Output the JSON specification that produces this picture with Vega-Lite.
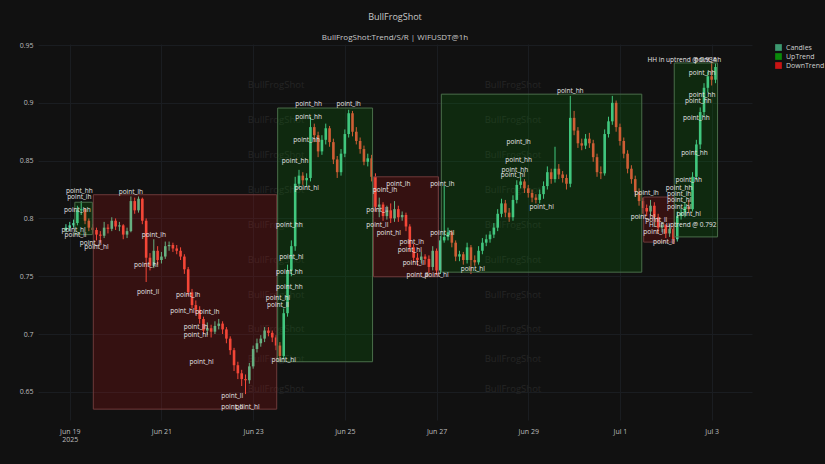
{
"$schema": "https://vega.github.io/schema/vega-lite/v6.json",
"width": 714, "height": 376,
"autosize": {"type": "none"},
"padding": {"left": 38, "top": 44, "right": 73, "bottom": 44},
"background": "#111111",
"title": {"text": "BullFrogShot", "subtitle": "BullFrogShot:Trend/S/R | WIFUSDT@1h", "anchor": "middle", "font": "Open Sans", "subtitleFont": "Open Sans", "fontSize": 9, "subtitleFontSize": 8, "fontWeight": "normal", "color": "#c8c8c8", "subtitleColor": "#c8c8c8", "offset": -1, "subtitlePadding": 12},
"config": {
  "view": {"stroke": null},
  "font": "Open Sans",
  "axis": {"domain": false, "ticks": false, "labelColor": "#bdbdbd", "labelFontSize": 7, "labelFont": "Open Sans", "gridColor": "#1a1d21", "gridWidth": 1, "title": null}
},
"datasets": {
"c": [
{"t":"2025-06-18T22:00","o":0.790,"h":0.795,"l":0.788,"c":0.792},
{"t":"2025-06-19T00:00","o":0.792,"h":0.797,"l":0.789,"c":0.794},
{"t":"2025-06-19T02:00","o":0.794,"h":0.799,"l":0.792,"c":0.796},
{"t":"2025-06-19T04:00","o":0.796,"h":0.811,"l":0.794,"c":0.807},
{"t":"2025-06-19T06:00","o":0.807,"h":0.815,"l":0.803,"c":0.808},
{"t":"2025-06-19T08:00","o":0.808,"h":0.809,"l":0.795,"c":0.798},
{"t":"2025-06-19T10:00","o":0.798,"h":0.800,"l":0.789,"c":0.792},
{"t":"2025-06-19T12:00","o":0.792,"h":0.795,"l":0.787,"c":0.790},
{"t":"2025-06-19T14:00","o":0.790,"h":0.792,"l":0.781,"c":0.786},
{"t":"2025-06-19T16:00","o":0.786,"h":0.789,"l":0.779,"c":0.785},
{"t":"2025-06-19T18:00","o":0.785,"h":0.797,"l":0.783,"c":0.792},
{"t":"2025-06-19T20:00","o":0.792,"h":0.795,"l":0.787,"c":0.791},
{"t":"2025-06-19T22:00","o":0.791,"h":0.801,"l":0.789,"c":0.798},
{"t":"2025-06-20T00:00","o":0.798,"h":0.800,"l":0.790,"c":0.793},
{"t":"2025-06-20T02:00","o":0.793,"h":0.797,"l":0.789,"c":0.794},
{"t":"2025-06-20T04:00","o":0.794,"h":0.795,"l":0.782,"c":0.786},
{"t":"2025-06-20T06:00","o":0.786,"h":0.792,"l":0.783,"c":0.789},
{"t":"2025-06-20T08:00","o":0.789,"h":0.819,"l":0.788,"c":0.815},
{"t":"2025-06-20T10:00","o":0.815,"h":0.818,"l":0.804,"c":0.807},
{"t":"2025-06-20T12:00","o":0.807,"h":0.819,"l":0.805,"c":0.817},
{"t":"2025-06-20T14:00","o":0.817,"h":0.818,"l":0.795,"c":0.798},
{"t":"2025-06-20T16:00","o":0.798,"h":0.800,"l":0.745,"c":0.766},
{"t":"2025-06-20T18:00","o":0.766,"h":0.770,"l":0.755,"c":0.759},
{"t":"2025-06-20T20:00","o":0.759,"h":0.782,"l":0.757,"c":0.772},
{"t":"2025-06-20T22:00","o":0.772,"h":0.776,"l":0.760,"c":0.764},
{"t":"2025-06-21T00:00","o":0.764,"h":0.771,"l":0.761,"c":0.767},
{"t":"2025-06-21T02:00","o":0.767,"h":0.780,"l":0.765,"c":0.776},
{"t":"2025-06-21T04:00","o":0.776,"h":0.780,"l":0.772,"c":0.777},
{"t":"2025-06-21T06:00","o":0.777,"h":0.779,"l":0.771,"c":0.774},
{"t":"2025-06-21T08:00","o":0.774,"h":0.777,"l":0.769,"c":0.772},
{"t":"2025-06-21T10:00","o":0.772,"h":0.775,"l":0.764,"c":0.767},
{"t":"2025-06-21T12:00","o":0.767,"h":0.769,"l":0.752,"c":0.756},
{"t":"2025-06-21T14:00","o":0.756,"h":0.758,"l":0.733,"c":0.736},
{"t":"2025-06-21T16:00","o":0.736,"h":0.739,"l":0.722,"c":0.725},
{"t":"2025-06-21T18:00","o":0.725,"h":0.729,"l":0.717,"c":0.721},
{"t":"2025-06-21T20:00","o":0.721,"h":0.724,"l":0.709,"c":0.713},
{"t":"2025-06-21T22:00","o":0.713,"h":0.715,"l":0.700,"c":0.703},
{"t":"2025-06-22T00:00","o":0.703,"h":0.710,"l":0.699,"c":0.705},
{"t":"2025-06-22T02:00","o":0.705,"h":0.708,"l":0.697,"c":0.702},
{"t":"2025-06-22T04:00","o":0.702,"h":0.711,"l":0.700,"c":0.707},
{"t":"2025-06-22T06:00","o":0.707,"h":0.713,"l":0.704,"c":0.709},
{"t":"2025-06-22T08:00","o":0.709,"h":0.711,"l":0.700,"c":0.704},
{"t":"2025-06-22T10:00","o":0.704,"h":0.706,"l":0.692,"c":0.696},
{"t":"2025-06-22T12:00","o":0.696,"h":0.698,"l":0.682,"c":0.686},
{"t":"2025-06-22T14:00","o":0.686,"h":0.688,"l":0.668,"c":0.673},
{"t":"2025-06-22T16:00","o":0.673,"h":0.676,"l":0.661,"c":0.666},
{"t":"2025-06-22T18:00","o":0.666,"h":0.669,"l":0.655,"c":0.661},
{"t":"2025-06-22T20:00","o":0.661,"h":0.665,"l":0.648,"c":0.660},
{"t":"2025-06-22T22:00","o":0.660,"h":0.675,"l":0.657,"c":0.672},
{"t":"2025-06-23T00:00","o":0.672,"h":0.690,"l":0.670,"c":0.687},
{"t":"2025-06-23T02:00","o":0.687,"h":0.696,"l":0.684,"c":0.692},
{"t":"2025-06-23T04:00","o":0.692,"h":0.699,"l":0.689,"c":0.696},
{"t":"2025-06-23T06:00","o":0.696,"h":0.706,"l":0.693,"c":0.703},
{"t":"2025-06-23T08:00","o":0.703,"h":0.706,"l":0.698,"c":0.701},
{"t":"2025-06-23T10:00","o":0.701,"h":0.703,"l":0.693,"c":0.697},
{"t":"2025-06-23T12:00","o":0.697,"h":0.699,"l":0.686,"c":0.690},
{"t":"2025-06-23T14:00","o":0.690,"h":0.693,"l":0.676,"c":0.681},
{"t":"2025-06-23T16:00","o":0.681,"h":0.722,"l":0.678,"c":0.718},
{"t":"2025-06-23T18:00","o":0.718,"h":0.760,"l":0.715,"c":0.755},
{"t":"2025-06-23T20:00","o":0.755,"h":0.781,"l":0.750,"c":0.776},
{"t":"2025-06-23T22:00","o":0.776,"h":0.836,"l":0.772,"c":0.830},
{"t":"2025-06-24T00:00","o":0.830,"h":0.842,"l":0.826,"c":0.837},
{"t":"2025-06-24T02:00","o":0.837,"h":0.840,"l":0.829,"c":0.833},
{"t":"2025-06-24T04:00","o":0.833,"h":0.839,"l":0.828,"c":0.835},
{"t":"2025-06-24T06:00","o":0.835,"h":0.888,"l":0.832,"c":0.879},
{"t":"2025-06-24T08:00","o":0.879,"h":0.882,"l":0.866,"c":0.872},
{"t":"2025-06-24T10:00","o":0.872,"h":0.875,"l":0.853,"c":0.858},
{"t":"2025-06-24T12:00","o":0.858,"h":0.872,"l":0.855,"c":0.868},
{"t":"2025-06-24T14:00","o":0.868,"h":0.882,"l":0.864,"c":0.878},
{"t":"2025-06-24T16:00","o":0.878,"h":0.880,"l":0.862,"c":0.866},
{"t":"2025-06-24T18:00","o":0.866,"h":0.869,"l":0.847,"c":0.851},
{"t":"2025-06-24T20:00","o":0.851,"h":0.854,"l":0.835,"c":0.840},
{"t":"2025-06-24T22:00","o":0.840,"h":0.860,"l":0.837,"c":0.856},
{"t":"2025-06-25T00:00","o":0.856,"h":0.877,"l":0.853,"c":0.873},
{"t":"2025-06-25T02:00","o":0.873,"h":0.894,"l":0.870,"c":0.891},
{"t":"2025-06-25T04:00","o":0.891,"h":0.893,"l":0.871,"c":0.875},
{"t":"2025-06-25T06:00","o":0.875,"h":0.879,"l":0.864,"c":0.867},
{"t":"2025-06-25T08:00","o":0.867,"h":0.870,"l":0.856,"c":0.860},
{"t":"2025-06-25T10:00","o":0.860,"h":0.863,"l":0.846,"c":0.849},
{"t":"2025-06-25T12:00","o":0.849,"h":0.856,"l":0.845,"c":0.852},
{"t":"2025-06-25T14:00","o":0.852,"h":0.855,"l":0.832,"c":0.836},
{"t":"2025-06-25T16:00","o":0.836,"h":0.839,"l":0.806,"c":0.810},
{"t":"2025-06-25T18:00","o":0.810,"h":0.818,"l":0.801,"c":0.812},
{"t":"2025-06-25T20:00","o":0.812,"h":0.814,"l":0.798,"c":0.802},
{"t":"2025-06-25T22:00","o":0.802,"h":0.811,"l":0.799,"c":0.807},
{"t":"2025-06-26T00:00","o":0.807,"h":0.813,"l":0.796,"c":0.800},
{"t":"2025-06-26T02:00","o":0.800,"h":0.815,"l":0.797,"c":0.808},
{"t":"2025-06-26T04:00","o":0.808,"h":0.811,"l":0.797,"c":0.801},
{"t":"2025-06-26T06:00","o":0.801,"h":0.806,"l":0.798,"c":0.803},
{"t":"2025-06-26T08:00","o":0.803,"h":0.805,"l":0.789,"c":0.793},
{"t":"2025-06-26T10:00","o":0.793,"h":0.795,"l":0.771,"c":0.775},
{"t":"2025-06-26T12:00","o":0.775,"h":0.778,"l":0.762,"c":0.766},
{"t":"2025-06-26T14:00","o":0.766,"h":0.770,"l":0.759,"c":0.764},
{"t":"2025-06-26T16:00","o":0.764,"h":0.771,"l":0.761,"c":0.767},
{"t":"2025-06-26T18:00","o":0.767,"h":0.769,"l":0.760,"c":0.765},
{"t":"2025-06-26T20:00","o":0.765,"h":0.768,"l":0.753,"c":0.758},
{"t":"2025-06-26T22:00","o":0.758,"h":0.776,"l":0.755,"c":0.772},
{"t":"2025-06-27T00:00","o":0.772,"h":0.774,"l":0.751,"c":0.755},
{"t":"2025-06-27T02:00","o":0.755,"h":0.785,"l":0.752,"c":0.781},
{"t":"2025-06-27T04:00","o":0.781,"h":0.828,"l":0.779,"c":0.784},
{"t":"2025-06-27T06:00","o":0.784,"h":0.792,"l":0.781,"c":0.788},
{"t":"2025-06-27T08:00","o":0.788,"h":0.790,"l":0.775,"c":0.779},
{"t":"2025-06-27T10:00","o":0.779,"h":0.781,"l":0.763,"c":0.767},
{"t":"2025-06-27T12:00","o":0.767,"h":0.772,"l":0.763,"c":0.769},
{"t":"2025-06-27T14:00","o":0.769,"h":0.771,"l":0.760,"c":0.764},
{"t":"2025-06-27T16:00","o":0.764,"h":0.779,"l":0.761,"c":0.775},
{"t":"2025-06-27T18:00","o":0.775,"h":0.777,"l":0.752,"c":0.764},
{"t":"2025-06-27T20:00","o":0.764,"h":0.768,"l":0.759,"c":0.762},
{"t":"2025-06-27T22:00","o":0.762,"h":0.776,"l":0.760,"c":0.772},
{"t":"2025-06-28T00:00","o":0.772,"h":0.783,"l":0.769,"c":0.779},
{"t":"2025-06-28T02:00","o":0.779,"h":0.786,"l":0.776,"c":0.782},
{"t":"2025-06-28T04:00","o":0.782,"h":0.789,"l":0.779,"c":0.786},
{"t":"2025-06-28T06:00","o":0.786,"h":0.796,"l":0.783,"c":0.792},
{"t":"2025-06-28T08:00","o":0.792,"h":0.808,"l":0.789,"c":0.804},
{"t":"2025-06-28T10:00","o":0.804,"h":0.817,"l":0.801,"c":0.813},
{"t":"2025-06-28T12:00","o":0.813,"h":0.816,"l":0.801,"c":0.805},
{"t":"2025-06-28T14:00","o":0.805,"h":0.809,"l":0.797,"c":0.801},
{"t":"2025-06-28T16:00","o":0.801,"h":0.820,"l":0.798,"c":0.816},
{"t":"2025-06-28T18:00","o":0.816,"h":0.833,"l":0.813,"c":0.829},
{"t":"2025-06-28T20:00","o":0.829,"h":0.836,"l":0.826,"c":0.832},
{"t":"2025-06-28T22:00","o":0.832,"h":0.834,"l":0.822,"c":0.826},
{"t":"2025-06-29T00:00","o":0.826,"h":0.829,"l":0.818,"c":0.822},
{"t":"2025-06-29T02:00","o":0.822,"h":0.825,"l":0.814,"c":0.818},
{"t":"2025-06-29T04:00","o":0.818,"h":0.821,"l":0.813,"c":0.816},
{"t":"2025-06-29T06:00","o":0.816,"h":0.825,"l":0.813,"c":0.821},
{"t":"2025-06-29T08:00","o":0.821,"h":0.832,"l":0.817,"c":0.828},
{"t":"2025-06-29T10:00","o":0.828,"h":0.845,"l":0.825,"c":0.840},
{"t":"2025-06-29T12:00","o":0.840,"h":0.843,"l":0.830,"c":0.834},
{"t":"2025-06-29T14:00","o":0.834,"h":0.862,"l":0.831,"c":0.843},
{"t":"2025-06-29T16:00","o":0.843,"h":0.847,"l":0.834,"c":0.838},
{"t":"2025-06-29T18:00","o":0.838,"h":0.841,"l":0.831,"c":0.835},
{"t":"2025-06-29T20:00","o":0.835,"h":0.838,"l":0.825,"c":0.830},
{"t":"2025-06-29T22:00","o":0.830,"h":0.906,"l":0.827,"c":0.887},
{"t":"2025-06-30T00:00","o":0.887,"h":0.893,"l":0.872,"c":0.876},
{"t":"2025-06-30T02:00","o":0.876,"h":0.879,"l":0.861,"c":0.865},
{"t":"2025-06-30T04:00","o":0.865,"h":0.869,"l":0.859,"c":0.863},
{"t":"2025-06-30T06:00","o":0.863,"h":0.873,"l":0.860,"c":0.869},
{"t":"2025-06-30T08:00","o":0.869,"h":0.874,"l":0.861,"c":0.865},
{"t":"2025-06-30T10:00","o":0.865,"h":0.868,"l":0.849,"c":0.853},
{"t":"2025-06-30T12:00","o":0.853,"h":0.856,"l":0.836,"c":0.840},
{"t":"2025-06-30T14:00","o":0.840,"h":0.845,"l":0.834,"c":0.839},
{"t":"2025-06-30T16:00","o":0.839,"h":0.877,"l":0.837,"c":0.873},
{"t":"2025-06-30T18:00","o":0.873,"h":0.888,"l":0.870,"c":0.884},
{"t":"2025-06-30T20:00","o":0.884,"h":0.906,"l":0.881,"c":0.900},
{"t":"2025-06-30T22:00","o":0.900,"h":0.902,"l":0.875,"c":0.879},
{"t":"2025-07-01T00:00","o":0.879,"h":0.882,"l":0.863,"c":0.867},
{"t":"2025-07-01T02:00","o":0.867,"h":0.870,"l":0.852,"c":0.856},
{"t":"2025-07-01T04:00","o":0.856,"h":0.859,"l":0.839,"c":0.843},
{"t":"2025-07-01T06:00","o":0.843,"h":0.846,"l":0.830,"c":0.834},
{"t":"2025-07-01T08:00","o":0.834,"h":0.837,"l":0.819,"c":0.823},
{"t":"2025-07-01T10:00","o":0.823,"h":0.826,"l":0.811,"c":0.815},
{"t":"2025-07-01T12:00","o":0.815,"h":0.818,"l":0.804,"c":0.809},
{"t":"2025-07-01T14:00","o":0.809,"h":0.812,"l":0.802,"c":0.806},
{"t":"2025-07-01T16:00","o":0.806,"h":0.816,"l":0.803,"c":0.811},
{"t":"2025-07-01T18:00","o":0.811,"h":0.814,"l":0.797,"c":0.801},
{"t":"2025-07-01T20:00","o":0.801,"h":0.804,"l":0.787,"c":0.792},
{"t":"2025-07-01T22:00","o":0.792,"h":0.797,"l":0.788,"c":0.794},
{"t":"2025-07-02T00:00","o":0.794,"h":0.795,"l":0.783,"c":0.787},
{"t":"2025-07-02T02:00","o":0.787,"h":0.795,"l":0.784,"c":0.791},
{"t":"2025-07-02T04:00","o":0.791,"h":0.793,"l":0.778,"c":0.782},
{"t":"2025-07-02T06:00","o":0.782,"h":0.806,"l":0.780,"c":0.802},
{"t":"2025-07-02T08:00","o":0.802,"h":0.808,"l":0.799,"c":0.805},
{"t":"2025-07-02T10:00","o":0.805,"h":0.814,"l":0.801,"c":0.810},
{"t":"2025-07-02T12:00","o":0.810,"h":0.816,"l":0.805,"c":0.808},
{"t":"2025-07-02T14:00","o":0.808,"h":0.840,"l":0.806,"c":0.836},
{"t":"2025-07-02T16:00","o":0.836,"h":0.868,"l":0.833,"c":0.864},
{"t":"2025-07-02T18:00","o":0.864,"h":0.896,"l":0.860,"c":0.892},
{"t":"2025-07-02T20:00","o":0.892,"h":0.917,"l":0.888,"c":0.913},
{"t":"2025-07-02T22:00","o":0.913,"h":0.927,"l":0.909,"c":0.923},
{"t":"2025-07-03T00:00","o":0.923,"h":0.935,"l":0.915,"c":0.920},
{"t":"2025-07-03T02:00","o":0.920,"h":0.934,"l":0.917,"c":0.931}
],
"b": [
{"t1":"2025-06-19T02:40","t2":"2025-06-19T11:50","lo":0.786,"hi":0.814,"trend":"UpTrend"},
{"t1":"2025-06-19T12:20","t2":"2025-06-23T12:20","lo":0.635,"hi":0.8205,"trend":"DownTrend"},
{"t1":"2025-06-23T12:50","t2":"2025-06-25T14:30","lo":0.676,"hi":0.8955,"trend":"UpTrend"},
{"t1":"2025-06-25T15:00","t2":"2025-06-27T01:00","lo":0.7495,"hi":0.836,"trend":"DownTrend"},
{"t1":"2025-06-27T02:30","t2":"2025-07-01T11:25","lo":0.7535,"hi":0.9075,"trend":"UpTrend"},
{"t1":"2025-07-01T12:25","t2":"2025-07-02T04:25","lo":0.7795,"hi":0.8185,"trend":"DownTrend"},
{"t1":"2025-07-02T04:25","t2":"2025-07-03T03:05","lo":0.784,"hi":0.9345,"trend":"UpTrend"}
],
"p": [
{"t":"2025-06-19T05:00","v":0.824,"lab":"point_hh"},
{"t":"2025-06-19T05:00","v":0.8185,"lab":"point_lh"},
{"t":"2025-06-19T04:00","v":0.807,"lab":"point_hh"},
{"t":"2025-06-19T02:00","v":0.790,"lab":"point_hl"},
{"t":"2025-06-19T03:00","v":0.7855,"lab":"point_ll"},
{"t":"2025-06-19T11:00","v":0.779,"lab":"point_ll"},
{"t":"2025-06-19T14:00","v":0.775,"lab":"point_hl"},
{"t":"2025-06-20T08:00","v":0.823,"lab":"point_lh"},
{"t":"2025-06-20T20:00","v":0.786,"lab":"point_lh"},
{"t":"2025-06-20T16:00","v":0.760,"lab":"point_hl"},
{"t":"2025-06-20T17:00","v":0.736,"lab":"point_ll"},
{"t":"2025-06-21T14:00","v":0.734,"lab":"point_lh"},
{"t":"2025-06-21T11:00","v":0.720,"lab":"point_hl"},
{"t":"2025-06-22T00:00","v":0.719,"lab":"point_lh"},
{"t":"2025-06-21T18:00","v":0.706,"lab":"point_lh"},
{"t":"2025-06-21T18:00","v":0.699,"lab":"point_hl"},
{"t":"2025-06-21T21:00","v":0.676,"lab":"point_hl"},
{"t":"2025-06-22T13:00","v":0.646,"lab":"point_ll"},
{"t":"2025-06-22T13:00","v":0.637,"lab":"point_ll"},
{"t":"2025-06-22T21:00","v":0.637,"lab":"point_hl"},
{"t":"2025-06-23T19:00","v":0.794,"lab":"point_hh"},
{"t":"2025-06-23T20:00","v":0.767,"lab":"point_hl"},
{"t":"2025-06-23T19:00","v":0.754,"lab":"point_hh"},
{"t":"2025-06-23T19:00","v":0.741,"lab":"point_hh"},
{"t":"2025-06-23T13:00","v":0.731,"lab":"point_hl"},
{"t":"2025-06-23T13:00","v":0.725,"lab":"point_ll"},
{"t":"2025-06-23T16:00","v":0.6775,"lab":"point_hl"},
{"t":"2025-06-24T05:00","v":0.899,"lab":"point_hh"},
{"t":"2025-06-25T02:00","v":0.899,"lab":"point_lh"},
{"t":"2025-06-24T05:00","v":0.888,"lab":"point_hh"},
{"t":"2025-06-24T04:00","v":0.868,"lab":"point_hh"},
{"t":"2025-06-23T22:00","v":0.850,"lab":"point_hh"},
{"t":"2025-06-24T04:00","v":0.826,"lab":"point_hl"},
{"t":"2025-06-26T04:00","v":0.830,"lab":"point_lh"},
{"t":"2025-06-25T21:00","v":0.825,"lab":"point_lh"},
{"t":"2025-06-27T03:00","v":0.830,"lab":"point_lh"},
{"t":"2025-06-25T17:00","v":0.807,"lab":"point_ll"},
{"t":"2025-06-25T17:00","v":0.794,"lab":"point_ll"},
{"t":"2025-06-25T23:00","v":0.787,"lab":"point_hl"},
{"t":"2025-06-26T11:00","v":0.780,"lab":"point_lh"},
{"t":"2025-06-26T10:00","v":0.773,"lab":"point_hl"},
{"t":"2025-06-26T12:00","v":0.761,"lab":"point_ll"},
{"t":"2025-06-26T14:00","v":0.751,"lab":"point_ll"},
{"t":"2025-06-27T00:00","v":0.751,"lab":"point_hl"},
{"t":"2025-06-27T03:00","v":0.787,"lab":"point_hl"},
{"t":"2025-06-29T22:00","v":0.910,"lab":"point_hh"},
{"t":"2025-06-28T19:00","v":0.866,"lab":"point_lh"},
{"t":"2025-06-28T19:00","v":0.8505,"lab":"point_hh"},
{"t":"2025-06-28T17:00","v":0.842,"lab":"point_hh"},
{"t":"2025-06-28T16:00","v":0.8375,"lab":"point_hl"},
{"t":"2025-06-29T07:00","v":0.810,"lab":"point_hl"},
{"t":"2025-06-27T19:00","v":0.756,"lab":"point_hl"},
{"t":"2025-07-01T14:00","v":0.822,"lab":"point_lh"},
{"t":"2025-07-01T12:00","v":0.801,"lab":"point_hl"},
{"t":"2025-07-01T19:00","v":0.7985,"lab":"point_ll"},
{"t":"2025-07-01T18:00","v":0.788,"lab":"point_ll"},
{"t":"2025-07-01T23:00","v":0.7795,"lab":"point_ll"},
{"t":"2025-07-02T22:00","v":0.937,"lab":"point_hh"},
{"t":"2025-07-02T19:00","v":0.926,"lab":"point_hh"},
{"t":"2025-07-02T19:00","v":0.907,"lab":"point_hh"},
{"t":"2025-07-02T17:00","v":0.902,"lab":"point_hh"},
{"t":"2025-07-02T16:00","v":0.887,"lab":"point_hh"},
{"t":"2025-07-02T15:00","v":0.857,"lab":"point_hh"},
{"t":"2025-07-02T12:00","v":0.833,"lab":"point_hh"},
{"t":"2025-07-02T07:00","v":0.826,"lab":"point_hh"},
{"t":"2025-07-02T07:00","v":0.821,"lab":"point_lh"},
{"t":"2025-07-02T07:00","v":0.816,"lab":"point_hl"},
{"t":"2025-07-02T07:00","v":0.810,"lab":"point_hl"},
{"t":"2025-07-02T12:00","v":0.804,"lab":"point_hl"}
],
"w": [
{"t":"2025-06-23T12:00","v":0.915},{"t":"2025-06-23T12:00","v":0.885},{"t":"2025-06-23T12:00","v":0.855},{"t":"2025-06-23T12:00","v":0.825},{"t":"2025-06-23T12:00","v":0.794},{"t":"2025-06-23T12:00","v":0.764},{"t":"2025-06-23T12:00","v":0.734},{"t":"2025-06-23T12:00","v":0.704},{"t":"2025-06-23T12:00","v":0.678},{"t":"2025-06-23T12:00","v":0.652},
{"t":"2025-06-28T16:00","v":0.915},{"t":"2025-06-28T16:00","v":0.885},{"t":"2025-06-28T16:00","v":0.855},{"t":"2025-06-28T16:00","v":0.825},{"t":"2025-06-28T16:00","v":0.794},{"t":"2025-06-28T16:00","v":0.764},{"t":"2025-06-28T16:00","v":0.734},{"t":"2025-06-28T16:00","v":0.704},{"t":"2025-06-28T16:00","v":0.678},{"t":"2025-06-28T16:00","v":0.652}
],
"a": [
{"t":"2025-07-03T02:30","v":0.937,"txt":"HH in uptrend @ 0.934"},
{"t":"2025-07-03T02:30","v":0.7945,"txt":"HL in uptrend @ 0.792"}
]
},
"layer": [
{
  "data": {"name": "w"},
  "mark": {"type": "text", "text": "BullFrogShot", "fontSize": 9.5, "fill": "#252525"},
  "encoding": {
    "x": {"field": "t", "type": "temporal",
      "scale": {"domain": [{"year": 2025, "month": 6, "date": 18, "hours": 10}, {"year": 2025, "month": 7, "date": 3, "hours": 18, "minutes": 30}]},
      "axis": {"values": [{"year":2025,"month":6,"date":19},{"year":2025,"month":6,"date":21},{"year":2025,"month":6,"date":23},{"year":2025,"month":6,"date":25},{"year":2025,"month":6,"date":27},{"year":2025,"month":6,"date":29},{"year":2025,"month":7,"date":1},{"year":2025,"month":7,"date":3}],
        "labelExpr": "date(datum.value) == 19 && month(datum.value) == 5 ? [timeFormat(datum.value, '%b %-d'), '2025'] : timeFormat(datum.value, '%b %-d')",
        "labelPadding": 7, "labelLineHeight": 8}},
    "y": {"field": "v", "type": "quantitative",
      "scale": {"domain": [0.6256, 0.9509], "nice": false, "zero": false},
      "axis": {"values": [0.65, 0.7, 0.75, 0.8, 0.85, 0.9, 0.95], "format": ".2~f", "labelPadding": 5}}
  }
},
{
  "data": {"name": "c"},
  "mark": {"type": "rule", "strokeWidth": 1},
  "encoding": {
    "x": {"field": "t", "type": "temporal"},
    "y": {"field": "l", "type": "quantitative"},
    "y2": {"field": "h"},
    "color": {"condition": {"test": "datum.c >= datum.o", "value": "#4fd69c"}, "value": "#ff5340"}
  }
},
{
  "data": {"name": "c"},
  "mark": {"type": "bar", "size": 2.6},
  "encoding": {
    "x": {"field": "t", "type": "temporal"},
    "y": {"field": "o", "type": "quantitative"},
    "y2": {"field": "c"},
    "color": {"condition": {"test": "datum.c >= datum.o", "value": "#4fd69c"}, "value": "#ff5340"}
  }
},
{
  "data": {"name": "b"},
  "mark": {"type": "rect", "fillOpacity": 0.2, "strokeWidth": 1},
  "encoding": {
    "x": {"field": "t1", "type": "temporal"},
    "x2": {"field": "t2"},
    "y": {"field": "lo", "type": "quantitative"},
    "y2": {"field": "hi"},
    "fill": {"field": "trend", "type": "nominal",
      "scale": {"domain": ["Candles", "UpTrend", "DownTrend"], "range": ["#3d9970", "#0a8a0a", "#c81414"]},
      "legend": {"title": null, "orient": "none", "legendX": 737, "legendY": 0, "symbolType": "square", "symbolSize": 45, "symbolOpacity": 1, "symbolStrokeWidth": 0, "labelFontSize": 7, "labelColor": "#d0d0d0", "rowPadding": 1, "labelOffset": 4}},
    "stroke": {"condition": {"test": "datum.trend == 'UpTrend'", "value": "#4a6e4a"}, "value": "#6e3a3a"}
  }
},
{
  "data": {"name": "p"},
  "mark": {"type": "text", "fontSize": 6.5, "fill": "#e6e6e6", "align": "center", "baseline": "middle"},
  "encoding": {
    "x": {"field": "t", "type": "temporal"},
    "y": {"field": "v", "type": "quantitative"},
    "text": {"field": "lab"}
  }
},
{
  "data": {"name": "a"},
  "mark": {"type": "text", "fontSize": 6.5, "fill": "#e6e6e6", "align": "right", "baseline": "middle"},
  "encoding": {
    "x": {"field": "t", "type": "temporal"},
    "y": {"field": "v", "type": "quantitative"},
    "text": {"field": "txt"}
  }
}
]
}
